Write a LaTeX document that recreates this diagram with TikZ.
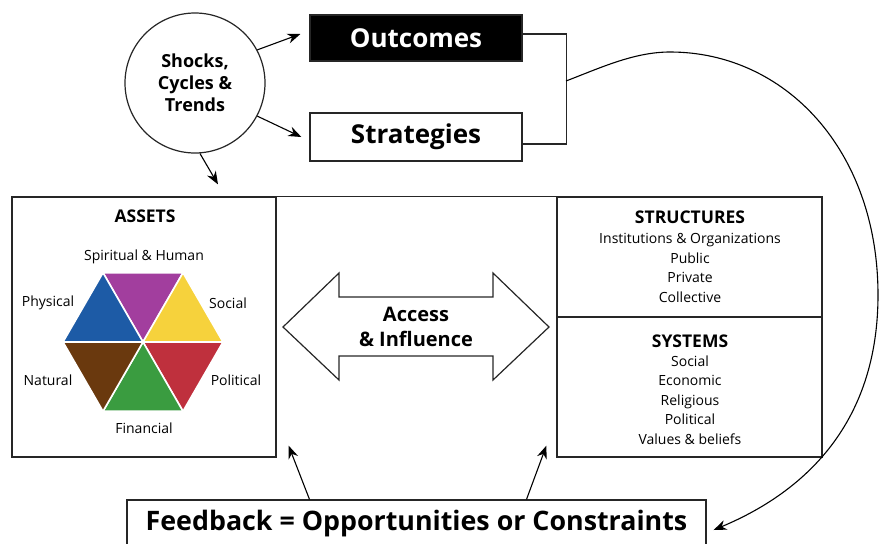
\documentclass[tikz,border=0pt]{standalone}
\usepackage{fontspec}
\setmainfont{Open Sans}
\usepackage{xcolor}
\usetikzlibrary{positioning,arrows.meta,calc}

\definecolor{hexpurple}{HTML}{A23E9E}
\definecolor{hexyellow}{HTML}{F6D23C}
\definecolor{hexred}{HTML}{BF303D}
\definecolor{hexgreen}{HTML}{3A9C40}
\definecolor{hexbrown}{HTML}{6A390E}
\definecolor{hexblue}{HTML}{1D5BA6}

\begin{document}
\begin{tikzpicture}[x=1pt, y=-1pt,
  box/.style={draw=black!85, line width=1.2pt, inner sep=0pt},
  arr/.style={-{Stealth[length=13pt,width=10pt]}, line width=1.1pt},
  big/.style={font=\fontsize{26}{30}\selectfont\bfseries},
  head/.style={font=\fontsize{17.5}{20}\selectfont\bfseries},
  small/.style={font=\fontsize{14}{19.5}\selectfont, align=center}]
\useasboundingbox (0,0) rectangle (879,544);

% top row
\node[circle, draw=black!85, line width=1.2pt, minimum size=140pt, align=center,
      font=\fontsize{18}{22}\selectfont\bfseries] (shocks) at (195,83) {Shocks,\\Cycles \&\\Trends};
\node[box, fill=black, text=white, big, minimum width=212pt, minimum height=46pt] (outcomes) at (416,38) {Outcomes};
\node[box, fill=white, big, minimum width=212pt, minimum height=48pt] (strategies) at (416,137) {Strategies};

\draw[line width=1.2pt, black!85] ([yshift=4pt]outcomes.east) -- ++(44,0) |- ([yshift=-7pt]strategies.east);
\coordinate (arcstart) at (566,81);

% middle boxes
\node[box, minimum width=264pt, minimum height=260pt] (assets) at (144,327) {};
\node[box, minimum width=265pt, minimum height=120pt] (structures) at (689.5,257) {};
\node[box, minimum width=265pt, minimum height=140pt] (systems) at (689.5,387) {};
\draw[line width=1.2pt, black!85] (assets.north east) -- (structures.north west);

% assets hexagon
\coordinate (hexc) at (143,342);
\foreach \a/\c in {240/hexpurple, 300/hexyellow, 0/hexred, 60/hexgreen, 120/hexbrown, 180/hexblue}
  \filldraw[fill=\c, draw=white, line width=1.6pt, line join=round]
    (hexc) -- ($(hexc)+(\a:80)$) -- ($(hexc)+({\a+60}:80)$) -- cycle;

\node[head] (assetsT) at (145,216) {ASSETS};
\node[small] (spiritual) at (144,257) {Spiritual \& Human};
\node[small] (physical) at (48,303) {Physical};
\node[small] (socialA) at (228,303) {Social};
\node[small] (natural) at (48,380) {Natural};
\node[small] (politicalA) at (236,380) {Political};
\node[small] (financial) at (144,428) {Financial};

% structures and systems
\node[head] (structT) at (690,217) {STRUCTURES};
\node[small] (structL) at (690,268) {Institutions \& Organizations\\Public\\Private\\Collective};
\node[head] (systT) at (690,341) {SYSTEMS};
\node[small] (systL) at (690,400) {Social\\Economic\\Religious\\Political\\Values \& beliefs};

% access double arrow
\draw[line width=1.2pt, black!85, line join=miter]
  (283,327) -- (339,273) -- (339,297) -- (493,297) -- (493,273) -- (549,327)
  -- (493,380) -- (493,356) -- (339,356) -- (339,380) -- cycle;
\node[font=\fontsize{20}{25}\selectfont\bfseries, align=center] (access) at (416,327) {Access\\\& Influence};

% feedback
\node[box, font=\fontsize{26.8}{30}\selectfont\bfseries, minimum width=579pt, minimum height=48pt] (feedback) at (416.5,524) {Feedback = Opportunities or Constraints};
\coordinate (fbtip) at ($(feedback.east)+(7,6)$);

% arrows
\draw[arr] (shocks.28) -- ([shift={(-9pt,4pt)}]outcomes.west);
\draw[arr] (shocks.-28) -- ([xshift=-8pt]strategies.west);
\draw[arr] (shocks.-86) -- ($(assets.north)+(74,-12)$);
\draw[arr] ([xshift=-107pt]feedback.north) -- ($(assets.south east)+(12,-12)$);
\draw[arr] ([xshift=110pt]feedback.north) -- ($(systems.south west)+(-10,-12)$);
\draw[arr] (arcstart) .. controls (600,68) and (634,52) .. (670,52)
  .. controls (785,52) and (878,150) .. (878,295)
  .. controls (878,415) and (814,488) .. (fbtip);
\end{tikzpicture}
\end{document}
